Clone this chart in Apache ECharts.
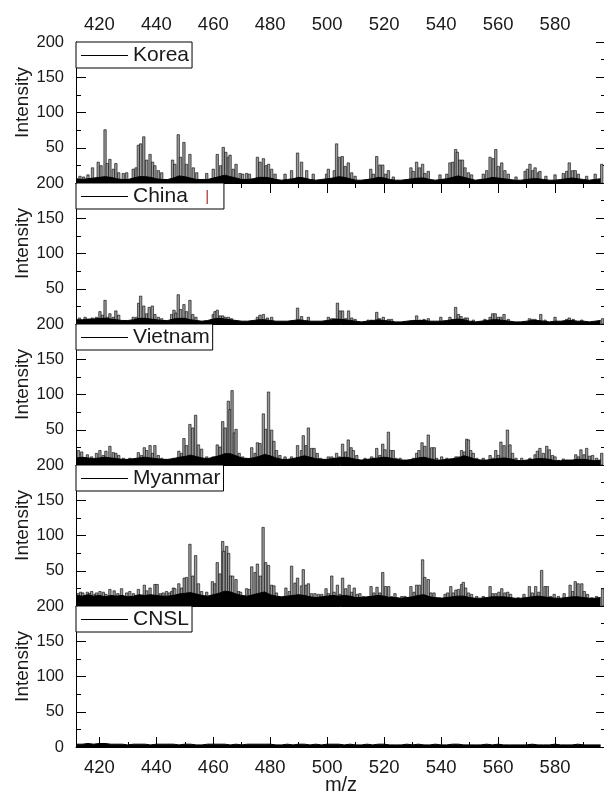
<!DOCTYPE html>
<html>
<head>
<meta charset="utf-8">
<script src="https://cdn.jsdelivr.net/npm/echarts@6/dist/echarts.min.js"></script>
<style>
  html, body { margin: 0; padding: 0; background: #fff; }
  #chart { width: 604px; height: 792px; }
</style>
</head>
<body>
<div id="chart"></div>
<script>
// samples, top to bottom
const samples = ['Korea', 'China', 'Vietnam', 'Myanmar', 'CNSL'];

// axis ticks
const xTickLabels = [420, 440, 460, 480, 500, 520, 540, 560, 580];
const xMinorTicks = [430, 450, 470, 490, 510, 530, 550, 570, 590];
const xMin = 411.8, xMax = 597.9;
const yTicks = [0, 50, 100, 150, 200];

// visible peaks [m/z, intensity]
const koreaPeaks = [
  [413.2,10],[414.5,9],[416.0,12],[417.6,22],[419.6,30],[420.6,25],[422.0,76],[422.8,28],[423.7,34],[424.9,20],
  [425.8,28],[426.8,15],[428.4,14],[429.6,15],[431.9,20],[432.9,22],[433.7,54],[434.5,56],[435.6,66],[436.6,33],
  [437.8,41],[438.7,30],[439.5,25],[440.7,18],[441.9,15],[445.7,33],[446.5,27],[447.7,69],[448.5,37],[449.7,58],
  [450.6,27],[451.8,41],[453.0,22],[454.2,15],[457.7,14],[460.0,20],[461.4,41],[462.6,25],[463.5,51],[464.4,44],
  [465.3,37],[465.9,40],[467.0,20],[468.0,27],[469.4,14],[470.3,13],[471.7,14],[472.7,13],[475.5,37],[476.4,30],
  [477.6,35],[478.5,25],[479.4,27],[480.5,20],[481.7,13],[485.2,13],[487.5,18],[489.6,43],
  [491.0,30],[492.8,18],[495.1,13],[499.8,13],[500.4,20],[502.5,18],[503.3,56],[504.3,37],[505.3,38],[506.3,24],
  [507.4,29],[508.6,15],[509.8,10],[515.3,20],[516.2,13],[517.4,38],[518.5,26],[519.5,26],[520.5,13],[521.5,18],
  [523.2,9],[529.4,22],[530.2,17],[531.4,30],[532.4,22],[533.5,27],[534.3,14],[535.5,17],[539.6,12],[542.0,13],
  [543.1,29],[544.1,30],[545.1,48],[545.7,44],[546.6,33],[547.5,33],[548.4,22],[549.6,15],[550.7,12],[554.8,13],
  [556.0,18],[557.2,37],[558.3,35],[559.2,48],[560.1,24],[561.3,29],[562.4,18],[563.6,13],[566.3,9],[569.5,17],
  [570.3,20],[571.2,27],[572.2,18],[573.0,22],[574.2,15],[574.7,17],[576.8,10],[580.0,12],[582.9,14],[584.1,17],
  [585.0,29],[586.2,18],[587.1,18],[588.2,13],[591.1,10],[594.1,13],[596.4,27]
];
const chinaPeaks = [
  [413.0,9],[415.0,10],[417.5,9],[419.0,10],[420.2,18],[421.1,13],[422.0,34],[422.8,10],[423.7,15],[424.9,10],
  [425.8,19],[426.8,13],[431.9,10],[433.1,10],[433.8,30],[434.5,40],[435.6,26],[436.6,15],[437.5,24],[438.6,26],
  [439.5,14],[440.7,10],[441.9,8],[445.4,14],[446.2,20],[446.9,16],[447.7,42],[448.5,21],[449.7,28],[450.6,18],
  [451.8,34],[452.8,14],[453.9,10],[460.0,14],[460.6,18],[461.4,20],[462.4,12],[463.3,12],[464.2,10],[465.3,10],
  [466.4,8],[475.5,10],[476.4,13],[477.6,14],[479.0,9],[480.5,10],[489.6,23],
  [491.0,11],[493.4,10],[500.4,10],[501.6,8],[502.5,8],[503.6,30],[504.5,19],[505.4,19],[506.5,8],[507.5,19],
  [508.6,9],[509.8,7],[514.4,6],[515.6,6],[517.4,17],[518.3,8],[519.7,10],[521.5,7],[522.6,7],[531.4,12],
  [532.6,6],[534.0,7],[535.5,8],[539.9,10],[543.1,10],[544.1,7],[545.1,24],[546.1,14],[547.0,11],[548.4,9],
  [549.2,9],[551.3,6],[555.4,7],[557.2,10],[558.1,15],[559.0,15],[560.1,10],[561.0,10],[562.1,14],[563.6,7],
  [571.0,8],[572.0,7],[573.0,7],[575.0,14],[576.5,6],[580.0,10],[584.1,7],[585.0,9],[586.4,7],[589.4,6],[596.7,8]
];
const vietnamPeaks = [
  [412.6,21],[413.8,19],[414.9,10],[415.8,15],[417.3,12],[419.0,17],[420.2,21],[421.4,14],[422.3,20],[423.7,27],
  [424.9,18],[425.8,17],[426.8,14],[428.4,10],[430.7,10],[433.7,18],[434.8,14],[435.8,25],[436.6,21],[437.8,28],
  [438.7,17],[439.5,28],[440.7,14],[441.9,10],[446.0,10],[447.9,20],[448.9,17],[449.7,38],[450.6,28],[451.8,58],
  [452.8,53],[453.8,71],[454.8,29],[455.9,23],[457.7,12],[460.0,12],[461.4,29],[462.4,26],[463.3,62],[464.2,53],
  [465.3,91],[465.9,79],[466.6,106],[467.4,46],[468.0,51],[469.1,17],[470.3,12],[471.7,10],[473.5,25],[474.7,17],
  [475.5,32],[476.4,31],[477.6,73],[478.4,51],[479.4,104],[480.5,50],[481.3,34],[482.2,21],[483.4,14],[485.2,12],
  [487.5,12],[489.6,28],
  [491.0,21],[491.6,42],[492.6,28],[493.4,53],[494.5,24],[495.4,24],[496.5,17],[497.7,10],[500.4,12],[501.6,12],
  [502.4,10],[503.3,17],[504.3,12],[505.4,30],[506.5,19],[507.4,36],[508.4,25],[509.2,21],[510.4,14],[513.3,10],
  [515.6,12],[516.4,10],[517.4,24],[518.5,14],[519.5,30],[520.3,22],[521.5,47],[522.3,21],[523.2,21],[524.2,10],
  [525.6,10],[530.2,10],[531.4,17],[532.2,21],[533.3,32],[534.3,27],[535.5,43],[536.7,25],[537.6,25],[538.4,10],
  [540.2,12],[542.0,10],[545.2,12],[546.1,12],[547.2,21],[548.2,19],[549.0,37],[549.6,36],[550.4,21],[551.3,17],
  [552.5,10],[554.8,10],[557.2,14],[558.1,10],[559.2,21],[560.1,14],[561.0,33],[562.1,28],[563.3,50],[564.2,29],
  [565.1,17],[566.3,10],[568.3,10],[571.2,10],[573.0,15],[573.8,20],[574.7,24],[575.9,17],[577.1,27],[578.0,22],
  [579.1,14],[580.0,12],[581.2,7],[582.9,9],[584.1,7],[587.3,15],[588.2,12],[589.1,22],[590.2,15],[591.1,24],
  [592.1,13],[593.2,14],[594.6,10],[596.4,17]
];
const myanmarPeaks = [
  [412.6,18],[413.4,20],[414.2,19],[415.8,20],[416.5,18],[417.3,21],[418.5,17],[419.0,19],[420.2,21],[421.4,20],
  [422.3,17],[423.7,24],[425.2,22],[426.5,18],[427.8,25],[429.6,19],[430.7,21],[432.0,18],[433.7,24],[435.8,30],
  [436.6,22],[437.8,26],[439.5,31],[440.3,31],[441.4,18],[442.4,19],[443.6,21],[444.6,19],[445.4,21],[446.0,26],
  [446.5,25],[447.9,32],[448.9,26],[449.8,40],[450.6,41],[451.8,88],[452.8,43],[453.8,72],[454.8,32],[455.9,21],
  [457.7,20],[459.7,35],[460.6,32],[461.4,62],[462.4,46],[463.3,92],[463.7,78],[464.7,85],[465.4,75],[466.1,43],
  [466.8,43],[468.0,38],[468.9,21],[469.6,20],[471.7,25],[472.7,24],[473.5,56],[474.7,48],[475.5,60],[476.6,43],
  [477.5,112],[478.4,62],[479.4,58],[480.5,30],[481.3,29],[482.2,19],[485.5,26],[486.7,21],[487.5,57],[488.7,33],
  [489.6,40],
  [491.0,29],[491.6,52],[492.6,30],[493.4,32],[494.5,18],[495.7,18],[496.9,17],[498.1,17],[499.6,25],[500.4,18],
  [501.6,43],[502.4,20],[503.6,30],[504.5,17],[505.4,40],[506.5,25],[507.7,30],[508.6,20],[509.5,26],[510.6,17],
  [511.5,18],[512.7,14],[515.4,28],[516.4,19],[517.5,27],[518.5,19],[519.5,48],[520.5,28],[521.6,28],[522.6,14],
  [523.8,18],[526.2,14],[527.3,14],[529.4,28],[530.5,20],[531.4,30],[532.4,30],[533.5,66],[534.3,41],[535.5,38],
  [536.4,19],[537.5,19],[539.6,12],[541.4,17],[542.3,19],[543.4,28],[544.3,19],[545.2,23],[546.1,24],[547.2,31],
  [547.8,34],[548.6,26],[549.6,19],[550.7,17],[552.5,14],[554.8,14],[557.2,28],[558.1,18],[559.2,18],[560.3,20],
  [561.3,25],[562.4,19],[563.4,20],[564.4,17],[567.1,12],[569.1,17],[571.0,28],[572.0,19],[573.2,28],[574.3,20],
  [575.3,51],[576.5,28],[577.3,28],[578.5,14],[579.7,17],[581.2,14],[583.2,18],[584.1,12],[585.3,30],[586.2,21],
  [587.1,35],[588.1,32],[589.4,32],[590.3,21],[591.4,17],[592.9,12],[594.6,14],[596.7,25]
];
const cnslPeaks = [];

// baseline noise band, one value every 2 m/z from 412 to 596
const noiseStart = 412, noiseStep = 2;
const koreaNoise = [
  6,5,6,7,8,9,8,6,5,5, 7,9,9,8,6,5,5,7,10,9, 7,5,5,5,7,9,11,9,7,5, 5,6,8,8,7,5,4,5,6,8,
  7,5,4,5,6,7,9,8,6,4, 4,5,6,8,7,5,4,4,5,6, 7,7,5,4,5,6,8,10,8,6, 4,5,6,8,7,6,5,4,4,5,
  6,6,5,4,4,5,6,7,6,5, 4,5,6
];
const chinaNoise = [
  6,6,7,7,8,8,7,6,5,5, 6,8,8,7,6,5,5,7,8,8, 6,5,4,5,7,8,7,6,5,4, 4,5,6,6,5,4,4,4,5,6,
  5,4,4,4,5,6,7,6,5,4, 3,4,5,6,5,4,3,3,4,5, 5,5,4,4,4,5,6,7,6,4, 3,4,5,6,6,5,4,3,3,4,
  5,5,4,3,4,4,5,5,4,4, 3,4,5
];
const vietnamNoise = [
  10,11,10,9,10,11,10,9,8,8, 9,10,11,10,9,8,8,9,11,12, 14,12,10,9,11,13,16,16,13,10, 9,10,12,15,13,10,8,8,9,11,
  13,11,9,8,8,9,10,11,10,8, 7,8,9,10,11,10,8,7,7,8, 10,11,9,7,7,8,9,10,13,11, 8,7,7,8,9,10,9,7,6,7,
  8,9,9,8,6,6,7,7,8,8, 7,6,7
];
const myanmarNoise = [
  15,14,16,14,15,13,15,14,15,13, 14,16,15,16,15,14,14,15,17,18, 19,17,15,14,16,18,21,20,17,15, 14,16,18,20,16,14,13,14,15,16,
  15,13,12,13,14,15,14,15,14,12, 12,13,14,15,14,12,12,11,12,13, 15,16,13,12,11,12,13,14,14,12, 11,11,12,13,13,13,12,11,11,12,
  13,14,13,12,11,11,12,13,13,12, 11,11,12
];
const cnslNoise = [
  4,4,5,4,5,5,4,4,4,3, 4,4,4,3,4,4,4,4,3,4, 4,3,3,4,4,4,4,3,4,3, 4,4,4,4,4,3,3,4,3,4,
  4,3,4,3,4,4,4,3,4,3, 3,4,3,4,4,3,3,3,4,3, 4,3,3,4,3,3,4,4,3,3, 3,3,4,3,4,3,3,3,3,3,
  4,3,3,3,4,3,3,3,4,3, 3,3,3
];

const peakSets = [koreaPeaks, chinaPeaks, vietnamPeaks, myanmarPeaks, cnslPeaks];
const noiseSets = [koreaNoise, chinaNoise, vietnamNoise, myanmarNoise, cnslNoise];

const FONT = '"Liberation Sans", Arial, sans-serif';
const TXT = '#1a1a1a';
const panelTop = 42, panelH = 141, plotLeft = 76, plotW = 530;

var grids = [], xAxes = [], yAxes = [], series = [], legends = [];

function makeGrid(top) {
  return { left: plotLeft, width: plotW, top: top, height: panelH, containLabel: false, outerBoundsMode: 'none' };
}

for (let i = 0; i < samples.length; i++) {
  let top = panelTop + i * panelH;
  let last = i === samples.length - 1;
  grids.push(makeGrid(top));

  // panel x axis (bottom)
  xAxes.push({
    gridIndex: i, type: 'value', min: xMin, max: xMax, position: 'bottom',
    axisLine: { show: true, onZero: false, lineStyle: { color: '#000', width: 1 } },
    axisTick: { show: last, inside: true, length: 10, customValues: xTickLabels, lineStyle: { color: '#000' } },
    axisLabel: { show: last, customValues: xTickLabels, fontSize: 18.5, color: TXT, fontFamily: FONT, margin: 11 },
    splitLine: { show: false },
    name: last ? 'm/z' : '', nameLocation: 'middle', nameGap: 28, nameMoveOverlap: false,
    nameTextStyle: { fontSize: 20, color: TXT, fontFamily: FONT }
  });

  yAxes.push({
    gridIndex: i, type: 'value', min: 0, max: 200, interval: 50, position: 'left',
    axisLine: { show: true, lineStyle: { color: '#000', width: 1 } },
    axisTick: { inside: true, length: 10, lineStyle: { color: '#000' } },
    minorTick: { show: true, splitNumber: 2, length: 5, lineStyle: { color: '#000' } },
    axisLabel: { fontSize: 16.5, color: TXT, fontFamily: FONT, margin: 12, showMinLabel: last, showMaxLabel: true },
    splitLine: { show: false },
    name: 'Intensity', nameLocation: 'middle', nameGap: 44, nameMoveOverlap: false,
    nameTextStyle: { fontSize: 19, color: TXT, fontFamily: FONT, padding: [0, 0, 0, 20] }
  });

  series.push({
    type: 'bar', name: samples[i], xAxisIndex: i, yAxisIndex: i,
    data: peakSets[i], barWidth: 3, silent: true, z: 2,
    itemStyle: { color: '#9a9a9a', borderColor: '#000', borderWidth: 0.6 }
  });
  series.push({
    type: 'line', name: samples[i] + ' baseline', xAxisIndex: i, yAxisIndex: i,
    data: noiseSets[i].map((v, k) => [noiseStart + k * noiseStep, v]),
    symbol: 'none', silent: true, z: 3,
    lineStyle: { color: '#000', width: 1 },
    areaStyle: { color: '#000', opacity: 1 }
  });

  legends.push({
    left: plotLeft, top: top, orient: 'horizontal',
    data: [{ name: samples[i], icon: 'rect', itemStyle: { color: '#000', borderWidth: 0 } }],
    itemWidth: 47, itemHeight: 1, selectedMode: false,
    borderColor: '#000', borderWidth: 1, backgroundColor: '#fff',
    padding: [3, 3, 2, 5],
    textStyle: {
      fontSize: 21, color: TXT, fontFamily: FONT,
      rich: { c: { fontSize: 15, color: '#a33', fontFamily: FONT } }
    },
    formatter: name => name === 'China' ? 'China   {c||}  ' : name
  });
}

// right axes: inward ticks only
for (let i = 0; i < samples.length; i++) {
  yAxes.push({
    gridIndex: i, type: 'value', min: 0, max: 200, interval: 50, position: 'right',
    axisLine: { show: true, lineStyle: { color: '#000' } },
    axisTick: { inside: true, length: 10, lineStyle: { color: '#000' } },
    minorTick: { show: true, splitNumber: 2, length: 5, lineStyle: { color: '#000' } },
    axisLabel: { show: false }, splitLine: { show: false }
  });
}

// top axis of first panel
xAxes.push({
  gridIndex: 0, type: 'value', min: xMin, max: xMax, position: 'top',
  axisLine: { show: true, lineStyle: { color: '#000', width: 1 } },
  axisTick: { show: true, inside: true, length: 10, customValues: xTickLabels, lineStyle: { color: '#000' } },
  axisLabel: { customValues: xTickLabels, fontSize: 18.5, color: TXT, fontFamily: FONT, margin: 8 },
  splitLine: { show: false }
});

// overlay grids for minor x ticks (top of first panel, bottom of last panel)
[[0, 'top'], [samples.length - 1, 'bottom']].forEach(function (p) {
  let gi = grids.length;
  grids.push(makeGrid(panelTop + p[0] * panelH));
  xAxes.push({
    gridIndex: gi, type: 'value', min: xMin, max: xMax, position: p[1],
    axisLine: { show: false },
    axisTick: { show: true, inside: true, length: 5, customValues: xMinorTicks, lineStyle: { color: '#000' } },
    axisLabel: { show: false }, splitLine: { show: false }
  });
  yAxes.push({ gridIndex: gi, type: 'value', min: 0, max: 200, show: false });
});

var chart = echarts.init(document.getElementById('chart'), null, { renderer: 'canvas' });
chart.setOption({
  animation: false,
  backgroundColor: '#fff',
  grid: grids,
  xAxis: xAxes,
  yAxis: yAxes,
  legend: legends,
  series: series
});
</script>
</body>
</html>
